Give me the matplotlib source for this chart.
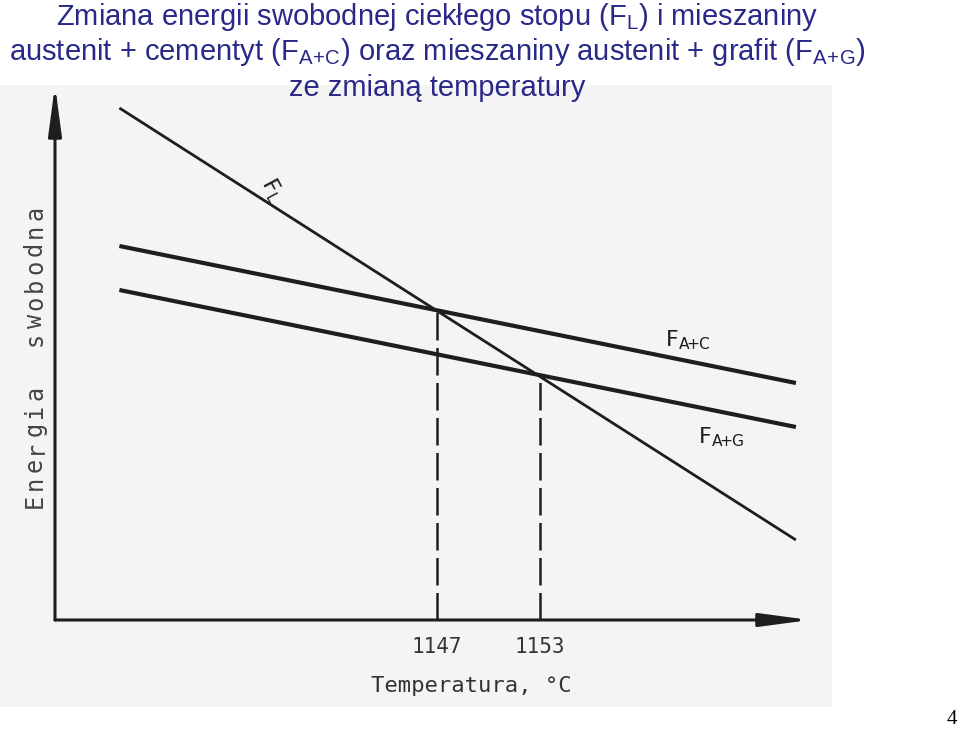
"""Free-energy vs temperature sketch for liquid, austenite+cementite and austenite+graphite."""

import matplotlib
matplotlib.use("Agg")
import matplotlib.pyplot as plt
import numpy as np
from matplotlib.patches import Rectangle

plt.rcParams["mathtext.fontset"] = "custom"
plt.rcParams["mathtext.rm"] = "Liberation Sans"
plt.rcParams["mathtext.it"] = "Liberation Sans"

# Temperature (deg C) and free energy (arbitrary units)
temp_ends = [1128.5, 1167.9]
energy_liquid = [5.12, 0.80]
energy_a_c = [3.74, 2.37]
energy_a_g = [3.30, 1.93]
marked_temps = [1147, 1153]
marked_labels = ["1147", "1153"]
y_label = "Energia  swobodna"

TITLE_COLOUR = "#29298a"
INK = "#1e1e1e"
SANS = ["Liberation Sans", "DejaVu Sans"]
MONO = ["DejaVu Sans Mono"]

fig = plt.figure(figsize=(9.6, 7.29), dpi=100)
fig.patches.append(Rectangle((0, 22 / 729), 832 / 960, 622 / 729, transform=fig.transFigure,
                             facecolor="#f4f4f4", edgecolor="none", zorder=-5))

ax = fig.add_axes([55 / 960, 109 / 729, 755 / 960, 535 / 729], zorder=2)
ax.patch.set_visible(False)
ax.set_xlim(1124.75, 1168.72)
ax.set_ylim(0, 5.35)
ax.axis("off")

ax.plot(temp_ends, energy_liquid, color=INK, lw=2.0, solid_capstyle="butt")
ax.plot(temp_ends, energy_a_c, color=INK, lw=3.0, solid_capstyle="butt")
ax.plot(temp_ends, energy_a_g, color=INK, lw=3.0, solid_capstyle="butt")

# dashed drop lines from the crossing with F_L down to the temperature axis
for t, label in zip(marked_temps, marked_labels):
    top = np.interp(t, temp_ends, energy_liquid)
    ax.plot([t, t], [0, top], color=INK, lw=1.8, dashes=(11, 3))
    ax.text(t, -0.27, label, ha="center", va="center", fontsize=15, family=MONO, color="#333333", clip_on=False)

# axes with arrow heads
arrow = dict(arrowstyle="-|>,head_length=1.5,head_width=0.2", color=INK, lw=2.2,
             shrinkA=0, shrinkB=0, mutation_scale=20)
ax.annotate("", xy=(1, 0), xytext=(0, 0), xycoords="axes fraction", arrowprops=arrow)
ax.annotate("", xy=(0, 1), xytext=(0, 0), xycoords="axes fraction", arrowprops=arrow)

ax.text(1149.0, -0.66, "Temperatura, °C", ha="center", va="center", fontsize=16, family=MONO, color="#333333")

# letter-spaced vertical label, drawn one glyph at a time like the stencil original
pitch = 18 / 729
for i, ch in enumerate(y_label):
    fig.text(35 / 960, 1 - 501 / 729 + i * pitch, ch, rotation=90, ha="center", va="center",
             fontsize=17, family=MONO, color="#444444")

# curve labels
ax.text(1137.4, 4.3, r"$\mathregular{F_L}$", rotation=-62, ha="center", va="center", fontsize=16, color=INK)
ax.text(1160.3, 2.80, r"$\mathregular{F_{A\!\!+\!\!C}}$", ha="left", va="center", fontsize=16, color=INK)
ax.text(1162.2, 1.83, r"$\mathregular{F_{A\!\!+\!\!G}}$", ha="left", va="center", fontsize=16, color=INK)

# title
fig.text(437 / 960, 1 - 17 / 729, r"Zmiana energii swobodnej ciekłego stopu (F$_{\mathregular{L}}$) i mieszaniny",
         ha="center", va="center", fontsize=21, family=SANS, color=TITLE_COLOUR)
fig.text(437 / 960, 1 - 52 / 729,
         r"austenit + cementyt (F$_{\mathregular{A\!+\!C}}$) oraz mieszaniny austenit + grafit (F$_{\mathregular{A\!+\!G}}$)",
         ha="center", va="center", fontsize=21, family=SANS, color=TITLE_COLOUR)
fig.text(437 / 960, 1 - 88 / 729, "ze zmianą temperatury", ha="center", va="center",
         fontsize=21, family=SANS, color=TITLE_COLOUR)

fig.text(952 / 960, 1 - 720 / 729, "4", ha="center", va="center", fontsize=15,
         family=["Liberation Serif", "DejaVu Serif"], color="black")

fig.savefig("out.png", dpi=100)
